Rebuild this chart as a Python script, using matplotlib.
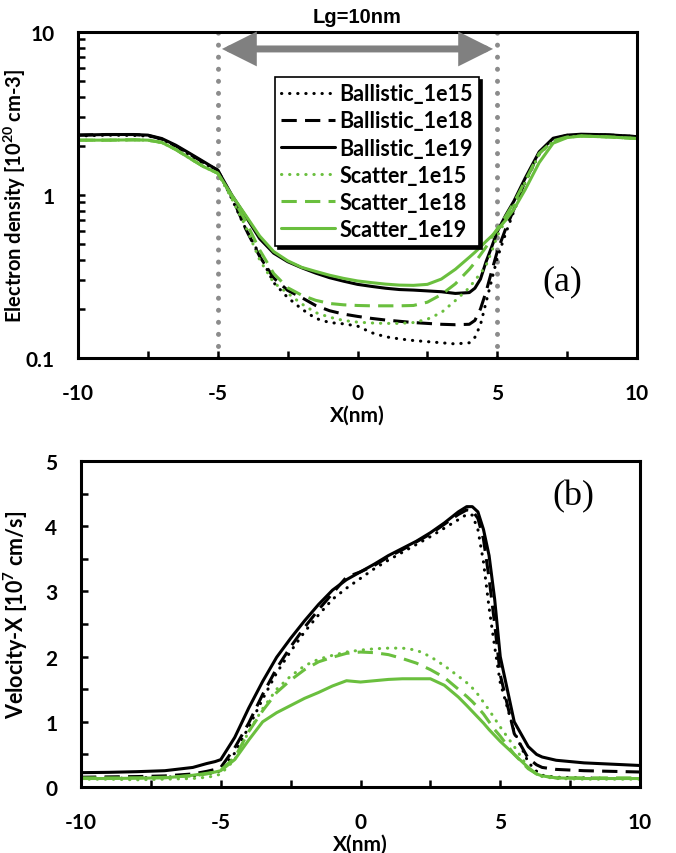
import numpy as np
import matplotlib
matplotlib.use('Agg')
import matplotlib.pyplot as plt
import matplotlib.transforms as mtransforms
from matplotlib.patches import FancyArrowPatch
from matplotlib.ticker import FixedLocator, NullFormatter, MultipleLocator

plt.rcParams['font.family'] = ['Lato', 'DejaVu Sans']
plt.rcParams['axes.unicode_minus'] = False
plt.rcParams['mathtext.fontset'] = 'custom'
plt.rcParams['mathtext.rm'] = 'Lato:bold'
plt.rcParams['mathtext.it'] = 'Lato:bold'
plt.rcParams['mathtext.bf'] = 'Lato:bold'

# ---------------- data: (a) electron density [1e20 cm-3] ----------------
xa = [-10, -9, -8, -7.5, -7, -6.5, -6, -5.5, -5, -4.5, -4, -3.5, -3, -2.5, -2, -1.5, -1, -0.5,
      0, 0.5, 1, 1.5, 2, 2.5, 3, 3.5, 4, 4.2, 4.4, 4.6, 4.8, 5, 5.3, 5.6, 6, 6.5, 7, 7.5, 8, 9, 10]
dens_b15 = [2.30, 2.33, 2.32, 2.30, 2.20, 1.98, 1.75, 1.56, 1.42, 0.95, 0.62, 0.43, 0.29, 0.235,
            0.20, 0.175, 0.165, 0.162, 0.157, 0.143, 0.135, 0.131, 0.128, 0.126, 0.124, 0.122,
            0.124, 0.134, 0.16, 0.22, 0.30, 0.41, 0.58, 0.80, 1.20, 1.78, 2.18, 2.30, 2.34, 2.33, 2.28]
dens_b18 = [2.33, 2.35, 2.35, 2.32, 2.20, 2.00, 1.78, 1.58, 1.42, 0.98, 0.62, 0.42, 0.31, 0.26,
            0.235, 0.21, 0.195, 0.186, 0.18, 0.175, 0.171, 0.168, 0.165, 0.163, 0.161, 0.16,
            0.161, 0.17, 0.20, 0.255, 0.34, 0.45, 0.62, 0.82, 1.22, 1.80, 2.20, 2.32, 2.35, 2.33, 2.28]
dens_b19 = [2.33, 2.35, 2.35, 2.33, 2.22, 2.02, 1.80, 1.60, 1.42, 1.00, 0.74, 0.54, 0.44, 0.39,
            0.358, 0.332, 0.311, 0.296, 0.283, 0.275, 0.268, 0.263, 0.261, 0.258, 0.255, 0.249,
            0.252, 0.268, 0.305, 0.39, 0.48, 0.596, 0.75, 0.92, 1.27, 1.84, 2.23, 2.33, 2.36, 2.34, 2.28]
dens_s15 = [2.17, 2.17, 2.18, 2.17, 2.10, 1.90, 1.68, 1.49, 1.36, 0.95, 0.64, 0.40, 0.29, 0.25,
            0.215, 0.19, 0.178, 0.17, 0.166, 0.164, 0.163, 0.163, 0.165, 0.173, 0.19, 0.225,
            0.27, 0.30, 0.33, 0.37, 0.45, 0.56, 0.70, 0.87, 1.20, 1.78, 2.13, 2.26, 2.30, 2.27, 2.22]
dens_s18 = [2.17, 2.17, 2.18, 2.17, 2.10, 1.90, 1.68, 1.49, 1.36, 0.98, 0.69, 0.46, 0.33, 0.27,
            0.243, 0.226, 0.216, 0.212, 0.21, 0.209, 0.209, 0.209, 0.21, 0.22, 0.245, 0.285,
            0.35, 0.385, 0.43, 0.48, 0.55, 0.62, 0.74, 0.90, 1.22, 1.80, 2.15, 2.27, 2.30, 2.27, 2.22]
dens_s19 = [2.17, 2.17, 2.18, 2.17, 2.10, 1.90, 1.68, 1.49, 1.36, 1.00, 0.75, 0.56, 0.45, 0.395,
            0.36, 0.34, 0.322, 0.308, 0.297, 0.29, 0.284, 0.28, 0.279, 0.283, 0.305, 0.35,
            0.415, 0.445, 0.48, 0.52, 0.56, 0.61, 0.70, 0.82, 1.08, 1.58, 2.08, 2.25, 2.30, 2.27, 2.22]

# ---------------- data: (b) velocity-x [1e7 cm/s] ----------------
xb = [-10, -9, -8, -7, -6, -5.5, -5.2, -5, -4.5, -4, -3.5, -3, -2.5, -2, -1.5, -1, -0.5, 0, 0.5,
      1, 1.5, 2, 2.5, 3, 3.5, 3.8, 4, 4.2, 4.4, 4.6, 4.8, 5, 5.5, 6, 6.3, 6.5, 7, 8, 9, 10]
vel_b15 = [0.13, 0.13, 0.14, 0.15, 0.17, 0.20, 0.22, 0.25, 0.52, 0.92, 1.35, 1.75, 2.08, 2.38,
           2.64, 2.88, 3.05, 3.20, 3.35, 3.48, 3.60, 3.72, 3.84, 3.97, 4.10, 4.18, 4.17, 3.95,
           3.45, 2.75, 2.15, 1.60, 0.85, 0.38, 0.24, 0.18, 0.15, 0.14, 0.13, 0.13]
vel_b18 = [0.15, 0.155, 0.16, 0.17, 0.20, 0.24, 0.27, 0.30, 0.60, 0.98, 1.42, 1.82, 2.15, 2.45,
           2.72, 2.97, 3.22, 3.30, 3.40, 3.53, 3.64, 3.76, 3.88, 4.03, 4.18, 4.25, 4.24, 4.12,
           3.80, 3.20, 2.50, 1.72, 0.82, 0.44, 0.34, 0.30, 0.27, 0.25, 0.24, 0.23]
vel_b19 = [0.22, 0.225, 0.235, 0.25, 0.30, 0.36, 0.39, 0.42, 0.76, 1.21, 1.62, 1.99, 2.28, 2.55,
           2.80, 3.02, 3.18, 3.30, 3.42, 3.55, 3.66, 3.77, 3.90, 4.05, 4.22, 4.30, 4.30, 4.22,
           3.95, 3.55, 2.88, 2.00, 1.00, 0.62, 0.50, 0.46, 0.41, 0.37, 0.35, 0.33]
vel_s15 = [0.12, 0.12, 0.11, 0.12, 0.13, 0.15, 0.17, 0.20, 0.42, 0.85, 1.20, 1.50, 1.70, 1.86,
           1.96, 2.02, 2.07, 2.10, 2.12, 2.13, 2.13, 2.10, 2.00, 1.86, 1.70, 1.60, 1.52, 1.42,
           1.30, 1.18, 1.05, 0.92, 0.62, 0.30, 0.20, 0.16, 0.13, 0.12, 0.12, 0.12]
vel_s18 = [0.14, 0.14, 0.14, 0.15, 0.17, 0.20, 0.23, 0.26, 0.45, 0.85, 1.17, 1.45, 1.64, 1.80,
           1.92, 1.99, 2.05, 2.07, 2.06, 2.03, 1.97, 1.90, 1.80, 1.68, 1.50, 1.39, 1.31, 1.22,
           1.12, 1.00, 0.88, 0.78, 0.50, 0.28, 0.20, 0.17, 0.14, 0.14, 0.14, 0.14]
vel_s19 = [0.13, 0.13, 0.135, 0.14, 0.18, 0.21, 0.23, 0.25, 0.42, 0.72, 1.00, 1.14, 1.25, 1.36,
           1.45, 1.55, 1.63, 1.61, 1.63, 1.65, 1.66, 1.66, 1.66, 1.56, 1.38, 1.25, 1.16, 1.07,
           0.98, 0.88, 0.79, 0.70, 0.50, 0.30, 0.20, 0.17, 0.14, 0.13, 0.13, 0.13]

labels = ['Ballistic_1e15', 'Ballistic_1e18', 'Ballistic_1e19',
          'Scatter_1e15', 'Scatter_1e18', 'Scatter_1e19']
density = [dens_b15, dens_b18, dens_b19, dens_s15, dens_s18, dens_s19]
velocity = [vel_b15, vel_b18, vel_b19, vel_s15, vel_s18, vel_s19]

GREEN = '#6abf3e'
DOT = (0, (0.1, 2.55))
DASH = (0, (5, 2.7))
styles = [('k', DOT), ('k', DASH), ('k', '-'),
          (GREEN, DOT), (GREEN, DASH), (GREEN, '-')]

fig = plt.figure(figsize=(6.76, 8.54), dpi=100)
ax1 = fig.add_axes([78/676, 1-359/854, 559/676, 326/854])
ax2 = fig.add_axes([81/676, 1-788/854, 559/676, 326/854])

LW = 2.2
for ax, data, xs in [(ax1, density, xa), (ax2, velocity, xb)]:
    for lab, vals, (c, ls) in zip(labels, data, styles):
        ax.plot(xs, vals, color=c, linestyle=ls, lw=LW, label=lab,
                dash_capstyle='round' if ls is DOT else 'butt', solid_capstyle='round')

# ---------- panel (a) ----------
ax1.set_yscale('log')
ax1.set_ylim(0.1, 10)
ax1.set_xlim(-10, 10)
for xv in (-5, 5):
    ax1.axvline(xv, color='#8c8c8c', lw=3.6, linestyle=(0, (0.01, 2.4)),
                dash_capstyle='round', zorder=1)

tr = mtransforms.blended_transform_factory(ax1.transData, ax1.transAxes)
arr = FancyArrowPatch((-4.85, 0.948), (4.85, 0.948), transform=tr,
                      arrowstyle='<|-|>,head_length=17,head_width=8.5',
                      mutation_scale=1, lw=5, color='#808080', shrinkA=0, shrinkB=0,
                      joinstyle='miter', clip_on=False, zorder=3)
ax1.add_patch(arr)
ax1.text(0, 1.048, 'Lg=10nm', transform=tr, ha='center', va='center',
         family=['Liberation Sans', 'DejaVu Sans'], weight='bold', fontsize=14.5)
ax1.text(7.32, 0.297, '(a)', ha='center', va='center',
         family=['Liberation Serif', 'DejaVu Serif'], fontsize=26)

leg = ax1.legend(loc='upper left', bbox_to_anchor=(0.352, 0.862), borderaxespad=0,
                 fancybox=False, edgecolor='k', framealpha=1,
                 shadow={'color': 'k', 'alpha': 1},
                 prop={'family': ['Lato', 'DejaVu Sans'], 'weight': 'bold', 'size': 15.5},
                 handlelength=2.5, handletextpad=0.2, labelspacing=0.28,
                 borderpad=0.3)
leg.get_frame().set_linewidth(1.2)

ax1.set_yticks([0.1, 1, 10])
ax1.set_yticklabels(['0.1', '1', '10'])
ax1.yaxis.set_minor_locator(FixedLocator([m * 10.0 ** e for e in (-1, 0) for m in range(2, 10)]))
ax1.yaxis.set_minor_formatter(NullFormatter())
ax1.set_ylabel('Electron density [10$^{20}$ cm-3]', fontsize=14.5, weight='bold')
ax1.yaxis.set_label_coords(-0.09, 0.5)

# ---------- panel (b) ----------
ax2.set_xlim(-10, 10)
ax2.set_ylim(0, 5)
ax2.yaxis.set_major_locator(MultipleLocator(1))
ax2.yaxis.set_minor_locator(MultipleLocator(0.5))
ax2.text(7.6, 4.47, '(b)', ha='center', va='center',
         family=['Liberation Serif', 'DejaVu Serif'], fontsize=26)
ax2.set_ylabel('Velocity-X [10$^{7}$ cm/s]', fontsize=15.5, weight='bold')
ax2.yaxis.set_label_coords(-0.091, 0.53)

for ax in (ax1, ax2):
    ax.xaxis.set_major_locator(FixedLocator([-10, -5, 0, 5, 10]))
    ax.xaxis.set_minor_locator(FixedLocator([-7.5, -2.5, 2.5, 7.5]))
    ax.set_xlabel('X(nm)', fontsize=15, weight='bold', labelpad=1)
    for s in ax.spines.values():
        s.set_linewidth(2.2)
    ax.tick_params(which='both', direction='in', width=1.8, length=5,
                   top=False, right=False)
    ax.tick_params(axis='x', which='major', pad=18, labelsize=15)
    ax.tick_params(axis='y', which='major', pad=17, labelsize=15)
    for t in ax.get_xticklabels() + ax.get_yticklabels():
        t.set_fontweight('bold')

fig.savefig('out.png', dpi=100)
